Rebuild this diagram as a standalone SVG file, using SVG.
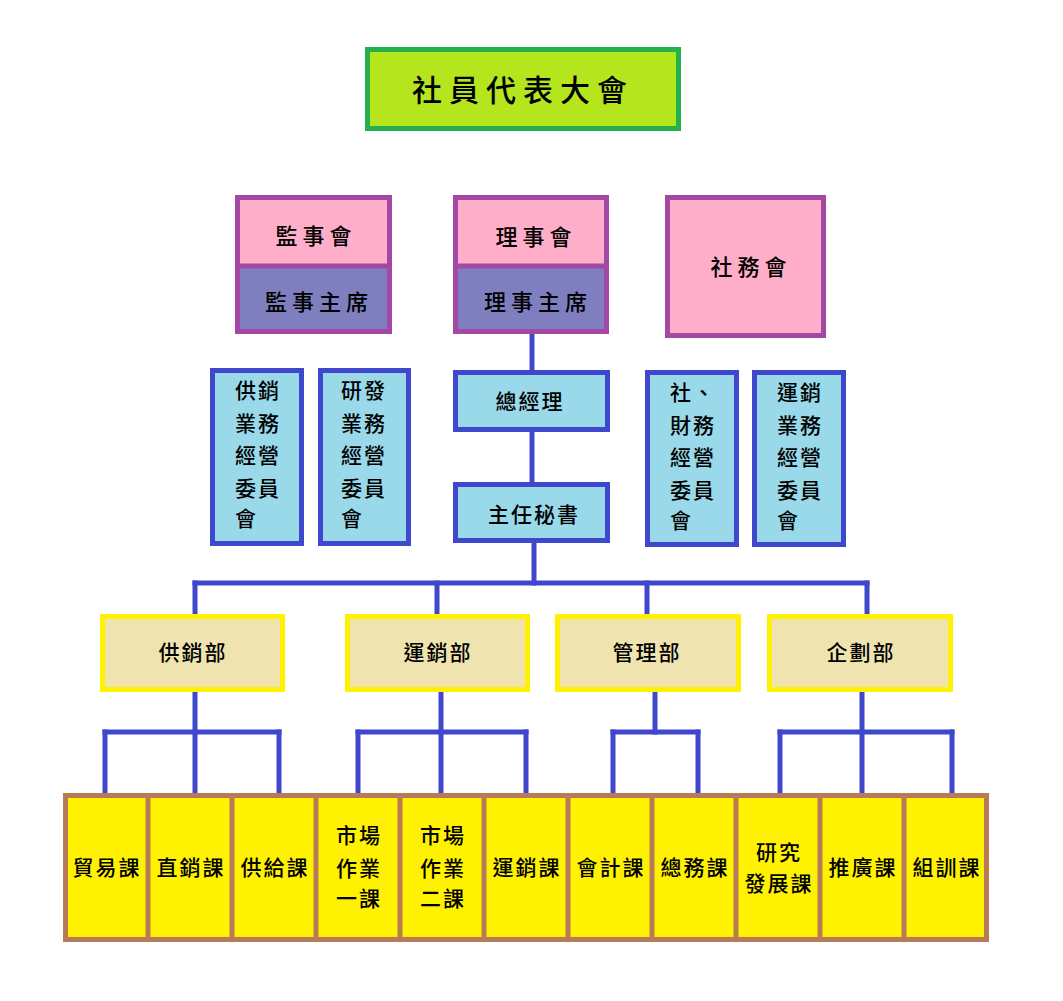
<svg xmlns="http://www.w3.org/2000/svg" width="1063" height="1001" viewBox="0 0 1063 1001">
<style>
text{font-family:"Noto Sans CJK TC","Noto Sans CJK SC",sans-serif;fill:#000;font-weight:500}
.c{text-anchor:middle}
.title{font-size:30px;letter-spacing:7px}
.board{font-size:22px;letter-spacing:5px}
.mid{font-size:21px;letter-spacing:2px}
.com{font-size:21px;letter-spacing:2px}
.dept{font-size:21px;letter-spacing:2px}
.cell{font-size:21px;letter-spacing:2px}
.pur{stroke:#a349a4;stroke-width:5}
.blu{fill:#99d9ea;stroke:#3f48cc;stroke-width:5}
.yel{fill:#efe4b0;stroke:#fff200;stroke-width:5}
.conn line{stroke:#3f48cc;stroke-width:5;stroke-linecap:square}
</style>
<rect width="1063" height="1001" fill="#fff"/>

<g id="conn" class="conn">
<line x1="532" y1="336" x2="532" y2="370"/>
<line x1="532" y1="432" x2="532" y2="482"/>
<line x1="534" y1="543" x2="534" y2="583"/>
<line x1="195" y1="583" x2="867" y2="583"/>
<line x1="195" y1="583" x2="195" y2="614"/>
<line x1="437" y1="583" x2="437" y2="614"/>
<line x1="647" y1="583" x2="647" y2="614"/>
<line x1="867" y1="583" x2="867" y2="614"/>
<line x1="195" y1="692" x2="195" y2="732"/>
<line x1="105" y1="732" x2="279" y2="732"/>
<line x1="105" y1="732" x2="105" y2="793"/>
<line x1="195" y1="732" x2="195" y2="793"/>
<line x1="279" y1="732" x2="279" y2="793"/>
<line x1="441" y1="692" x2="441" y2="732"/>
<line x1="358" y1="732" x2="526" y2="732"/>
<line x1="358" y1="732" x2="358" y2="793"/>
<line x1="441" y1="732" x2="441" y2="793"/>
<line x1="526" y1="732" x2="526" y2="793"/>
<line x1="655" y1="692" x2="655" y2="732"/>
<line x1="613" y1="732" x2="698" y2="732"/>
<line x1="613" y1="732" x2="613" y2="793"/>
<line x1="698" y1="732" x2="698" y2="793"/>
<line x1="862" y1="692" x2="862" y2="732"/>
<line x1="780" y1="732" x2="952" y2="732"/>
<line x1="780" y1="732" x2="780" y2="793"/>
<line x1="862" y1="732" x2="862" y2="793"/>
<line x1="952" y1="732" x2="952" y2="793"/>
</g>

<g id="assembly">
<rect x="367.5" y="49.5" width="311" height="79" fill="#b5e61d" stroke="#22b14c" stroke-width="5"/>
<text class="title c" x="523" y="101">社員代表大會</text>
</g>

<g id="supervisors">
<rect x="237.5" y="197.5" width="152" height="68.5" fill="#ffaec9"/>
<rect x="237.5" y="266" width="152" height="65.5" fill="#7f7fc0"/>
<rect x="237.5" y="197.5" width="152" height="134" fill="none" class="pur"/>
<line x1="237.5" y1="266" x2="389.5" y2="266" class="pur"/>
<text class="board c" x="316" y="244">監事會</text>
<text class="board c" x="319" y="310">監事主席</text>
</g>

<g id="directors">
<rect x="455.5" y="197.5" width="151" height="68.5" fill="#ffaec9"/>
<rect x="455.5" y="266" width="151" height="65.5" fill="#7f7fc0"/>
<rect x="455.5" y="197.5" width="151" height="134" fill="none" class="pur"/>
<line x1="455.5" y1="266" x2="606.5" y2="266" class="pur"/>
<text class="board c" x="536" y="245">理事會</text>
<text class="board c" x="538" y="310">理事主席</text>
</g>

<g id="affairs">
<rect x="667.5" y="197.5" width="156" height="138" fill="#ffaec9" class="pur"/>
<text class="board c" x="751" y="275">社務會</text>
</g>

<g id="gm">
<rect x="455.5" y="372.5" width="152" height="57" class="blu"/>
<text class="mid c" x="530" y="409">總經理</text>
</g>

<g id="secretary">
<rect x="455.5" y="484.5" width="152" height="56" class="blu"/>
<text class="mid c" x="534" y="522">主任秘書</text>
</g>

<g id="com1">
<rect x="212.5" y="370.5" width="89" height="173" class="blu"/>
<text class="com" x="235"><tspan x="235" y="398">供銷</tspan><tspan x="235" y="431">業務</tspan><tspan x="235" y="463">經營</tspan><tspan x="235" y="496">委員</tspan><tspan x="235" y="526">會</tspan></text>
</g>
<g id="com2">
<rect x="320.5" y="370.5" width="88" height="173" class="blu"/>
<text class="com" x="341"><tspan x="341" y="398">研發</tspan><tspan x="341" y="431">業務</tspan><tspan x="341" y="463">經營</tspan><tspan x="341" y="496">委員</tspan><tspan x="341" y="526">會</tspan></text>
</g>
<g id="com3">
<rect x="647.5" y="372.5" width="89" height="172" class="blu"/>
<text class="com" x="670"><tspan x="670" y="400">社、</tspan><tspan x="670" y="433">財務</tspan><tspan x="670" y="465">經營</tspan><tspan x="670" y="498">委員</tspan><tspan x="670" y="528">會</tspan></text>
</g>
<g id="com4">
<rect x="754.5" y="372.5" width="89" height="172" class="blu"/>
<text class="com" x="777"><tspan x="777" y="400">運銷</tspan><tspan x="777" y="433">業務</tspan><tspan x="777" y="465">經營</tspan><tspan x="777" y="498">委員</tspan><tspan x="777" y="528">會</tspan></text>
</g>

<g id="dept1">
<rect x="102.5" y="616.5" width="180" height="73" class="yel"/>
<text class="dept c" x="193" y="660">供銷部</text>
</g>
<g id="dept2">
<rect x="347.5" y="616.5" width="180" height="73" class="yel"/>
<text class="dept c" x="438" y="660">運銷部</text>
</g>
<g id="dept3">
<rect x="557.5" y="616.5" width="181" height="73" class="yel"/>
<text class="dept c" x="647" y="660">管理部</text>
</g>
<g id="dept4">
<rect x="769.5" y="616.5" width="181" height="73" class="yel"/>
<text class="dept c" x="861" y="660">企劃部</text>
</g>

<g id="sections">
<rect x="65.5" y="795.5" width="921" height="144" fill="#fff200" stroke="#b97a57" stroke-width="5"/>
<g stroke="#b97a57" stroke-width="5">
<line x1="148" y1="795" x2="148" y2="940"/>
<line x1="232" y1="795" x2="232" y2="940"/>
<line x1="316" y1="795" x2="316" y2="940"/>
<line x1="400" y1="795" x2="400" y2="940"/>
<line x1="484" y1="795" x2="484" y2="940"/>
<line x1="568" y1="795" x2="568" y2="940"/>
<line x1="652" y1="795" x2="652" y2="940"/>
<line x1="736" y1="795" x2="736" y2="940"/>
<line x1="820" y1="795" x2="820" y2="940"/>
<line x1="904" y1="795" x2="904" y2="940"/>
</g>
</g>
<g id="sec1"><text class="cell c" x="107" y="875">貿易課</text></g>
<g id="sec2"><text class="cell c" x="191" y="875">直銷課</text></g>
<g id="sec3"><text class="cell c" x="275" y="875">供給課</text></g>
<g id="sec4"><text class="cell c"><tspan x="359" y="843">市場</tspan><tspan x="359" y="876">作業</tspan><tspan x="359" y="906">一課</tspan></text></g>
<g id="sec5"><text class="cell c"><tspan x="443" y="843">市場</tspan><tspan x="443" y="876">作業</tspan><tspan x="443" y="906">二課</tspan></text></g>
<g id="sec6"><text class="cell c" x="527" y="875">運銷課</text></g>
<g id="sec7"><text class="cell c" x="611" y="875">會計課</text></g>
<g id="sec8"><text class="cell c" x="695" y="875">總務課</text></g>
<g id="sec9"><text class="cell c"><tspan x="779" y="860">研究</tspan><tspan x="779" y="891">發展課</tspan></text></g>
<g id="sec10"><text class="cell c" x="863" y="875">推廣課</text></g>
<g id="sec11"><text class="cell c" x="947" y="875">組訓課</text></g>
</svg>
